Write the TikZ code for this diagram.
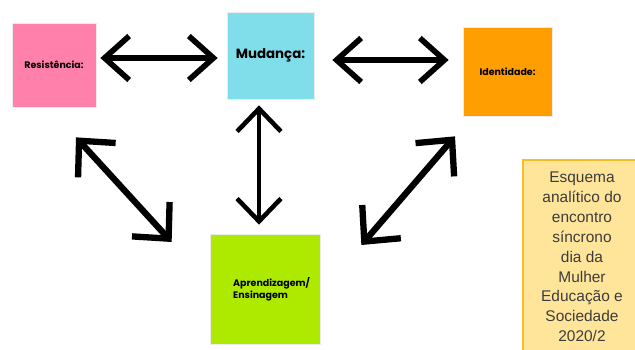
\documentclass[tikz,border=0pt]{standalone}
\usepackage{fontspec}
\setmainfont{Liberation Sans}
\newfontfamily\cartaofont{Poppins}
\usetikzlibrary{arrows.meta}
\definecolor{rosa}{HTML}{FF80AB}
\definecolor{ciano}{HTML}{80DEEA}
\definecolor{laranja}{HTML}{FF9E00}
\definecolor{lima}{HTML}{AEEA00}
\definecolor{creme}{HTML}{FFE59A}
\definecolor{ouro}{HTML}{F6BE26}
\definecolor{grafite}{HTML}{3C3C3C}
\begin{document}
\begin{tikzpicture}[x=0.02cm,y=-0.02cm,line join=miter,
    cartao/.style={minimum size=#1*0.02cm,inner sep=0pt,draw=black!8,font=\cartaofont\bfseries\fontsize{5.4pt}{6.5pt}\selectfont},
    seta/.style={{Straight Barb[length=#1,width=25pt]}-{Straight Barb[length=#1,width=25pt]},line width=3.2pt},
    seta/.default=14pt,
    diag/.style={{Straight Barb[length=15pt,width=29pt]}-{Straight Barb[length=15pt,width=29pt]},line width=3.6pt}]
    \useasboundingbox (0,0) rectangle (635,349);
    % cartoes
    \node[cartao=84,fill=rosa] (res) at (54,65) {Resist\^encia:};
    \node[cartao=87,fill=ciano,font=\cartaofont\bfseries\fontsize{7.6pt}{9pt}\selectfont] (mud) at (270.5,55.5) {Mudan\c{c}a:};
    \node[cartao=89,fill=laranja] (ide) at (507.5,71.5) {Identidade:};
    \node[cartao=110,fill=lima] (apr) at (265,289) {};
    \node[anchor=west,align=left,font=\cartaofont\bfseries\fontsize{5.4pt}{6.8pt}\selectfont] (aprtxt) at (227,289) {Aprendizagem/\\Ensinagem};
    % setas
    \draw[seta] ([shift={(4,-7)}]res.east) -- ([shift={(-9,2.5)}]mud.west);
    \draw[seta] ([shift={(18,4.5)}]mud.east) -- ([shift={(-14,-11.5)}]ide.west);
    \draw[seta=13pt,line width=2.6pt] ([shift={(-11.5,6)}]mud.south) -- ([shift={(-6,-9)}]apr.north);
    \draw[diag] ([shift={(22,30)}]res.south) -- ([shift={(-38,-47)}]apr.west);
    \draw[diag] ([shift={(-52.5,20)}]ide.south) -- ([shift={(41,-44)}]apr.east);
    % legenda
    \draw[ouro,fill=creme,line width=1pt] (523,160) rectangle (650,360);
    \node[align=center,text=grafite,font=\fontsize{8.8pt}{11.3pt}\selectfont] (nota) at (582,257)
        {Esquema\\anal\'itico do\\encontro\\s\'incrono\\dia da\\Mulher\\Educa\c{c}\~ao e\\Sociedade\\2020/2};
\end{tikzpicture}
\end{document}
